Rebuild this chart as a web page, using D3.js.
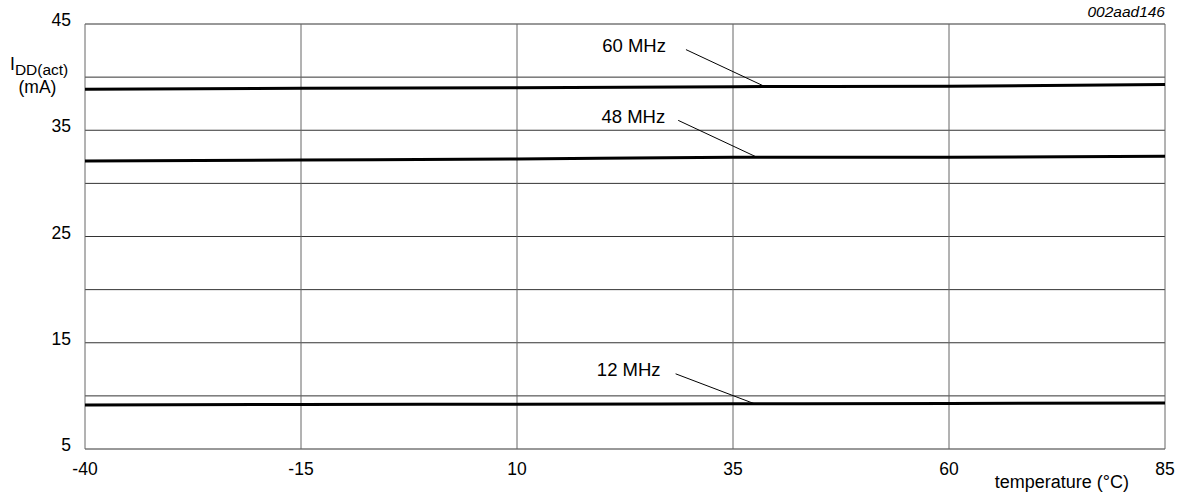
<!DOCTYPE html>
<html>
<head>
<meta charset="utf-8">
<script src="https://cdn.jsdelivr.net/npm/d3@7"></script>
<style>
  body { margin: 0; background: #fff; }
  svg { font-family: "Liberation Sans", Arial, sans-serif; }
</style>
</head>
<body>
<svg id="chart" width="1184" height="495"></svg>
<script>
// temperature points (deg C) and supply current per clock (mA)
var temps = [-40, -15, 10, 35, 60, 85];
var idd_60mhz = [38.85, 38.95, 39.0, 39.1, 39.15, 39.3];
var idd_48mhz = [32.1, 32.2, 32.3, 32.45, 32.45, 32.55];
var idd_12mhz = [9.15, 9.2, 9.22, 9.25, 9.28, 9.33];
var series_names = ["60 MHz", "48 MHz", "12 MHz"];
var x_ticks = [-40, -15, 10, 35, 60, 85];
var y_ticks = [5, 15, 25, 35, 45];
var y_grid = [10, 20, 30, 40];

var series = [idd_60mhz, idd_48mhz, idd_12mhz];
// where each leader line touches its curve (deg C)
var label_at = [38.7, 37.8, 37.5];

var svg = d3.select("#chart");
var plot_l = 85, plot_r = 1165, plot_t = 24, plot_b = 449;

var x = d3.scaleLinear().domain([-40, 85]).range([plot_l, plot_r]);
var y = d3.scaleLinear().domain([5, 45]).range([plot_b, plot_t]);

// grid
svg.append("g").selectAll("line").data(y_grid.concat(y_ticks)).enter().append("line")
    .attr("x1", plot_l).attr("x2", plot_r)
    .attr("y1", d => y(d)).attr("y2", d => y(d))
    .attr("stroke", "#333").attr("stroke-width", 1);
svg.append("g").selectAll("line").data(x_ticks).enter().append("line")
    .attr("x1", d => x(d)).attr("x2", d => x(d))
    .attr("y1", plot_t).attr("y2", plot_b)
    .attr("stroke", "#666").attr("stroke-width", 1);

// tick labels
svg.append("g").selectAll("text").data(y_ticks).enter().append("text")
    .attr("x", plot_l - 14).attr("y", d => y(d) + 2)
    .attr("text-anchor", "end").attr("font-size", 17.5)
    .text(d => d);
svg.append("g").selectAll("text").data(x_ticks).enter().append("text")
    .attr("x", d => x(d)).attr("y", 475)
    .attr("text-anchor", "middle").attr("font-size", 17.5)
    .text(d => d);

// axis titles
var yt = svg.append("text").attr("x", 10).attr("y", 70).attr("font-size", 17.5);
yt.append("tspan").text("I");
yt.append("tspan").attr("dy", 5).attr("font-size", 15.5).text("DD(act)");
svg.append("text").attr("x", 37.5).attr("y", 93).attr("text-anchor", "middle")
    .attr("font-size", 17.5).text("(mA)");
svg.append("text").attr("x", 1129).attr("y", 488).attr("text-anchor", "end")
    .attr("font-size", 18).text("temperature (\u00B0C)");
svg.append("text").attr("x", 1165).attr("y", 17).attr("text-anchor", "end")
    .attr("font-size", 15.5).attr("font-style", "italic").text("002aad146");

// curves
var line = d3.line().x((d, i) => x(temps[i])).y(d => y(d)).curve(d3.curveMonotoneX);
svg.append("g").selectAll("path").data(series).enter().append("path")
    .attr("d", line)
    .attr("fill", "none").attr("stroke", "#000").attr("stroke-width", 3);

// labels with leader lines; text ends just left of the leader
var gaps = [20, 13, 15];
series.forEach(function(s, i) {
    var t = label_at[i];
    var vi = d3.bisectLeft(temps, t);
    var f = (t - temps[vi - 1]) / (temps[vi] - temps[vi - 1]);
    var v = s[vi - 1] + f * (s[vi] - s[vi - 1]);
    var ex = x(t), ey = y(v);
    var sx = ex - 79, sy = ey - (i == 2 ? 30 : 37);
    svg.append("line")
        .attr("x1", sx).attr("y1", sy).attr("x2", ex).attr("y2", ey)
        .attr("stroke", "#000").attr("stroke-width", 1);
    svg.append("text")
        .attr("x", sx - gaps[i]).attr("y", sy + 2.5)
        .attr("text-anchor", "end").attr("font-size", 18.5)
        .text(series_names[i]);
});
</script>
</body>
</html>
